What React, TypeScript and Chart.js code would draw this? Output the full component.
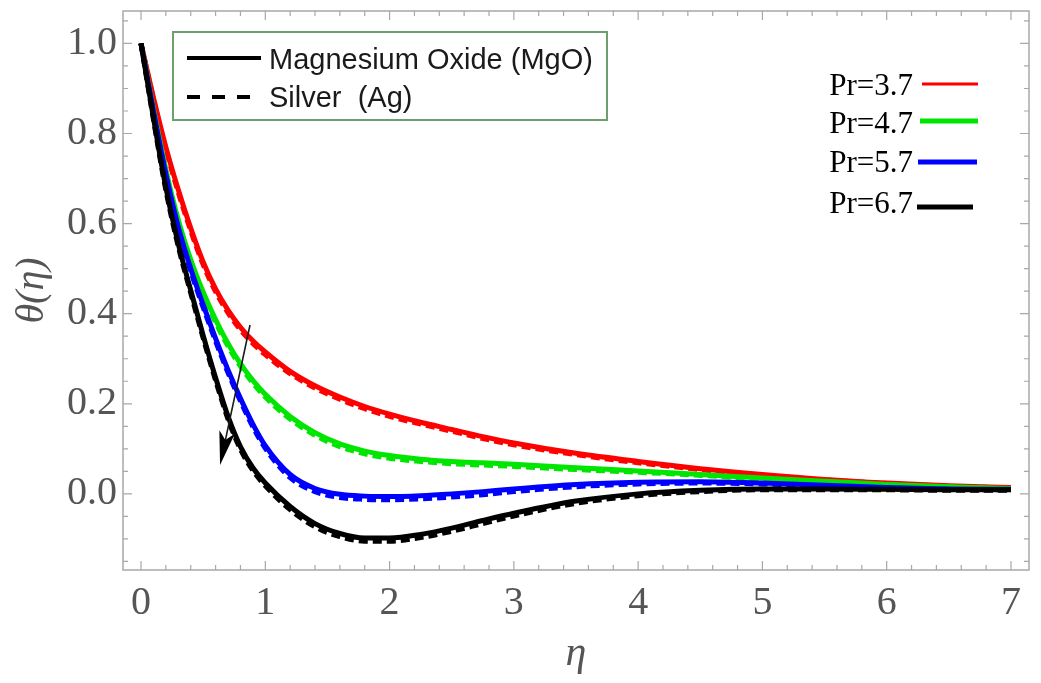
import React, { useEffect, useRef } from 'react';
import { Chart, registerables } from 'chart.js';

Chart.register(...registerables);

// ---------- data ----------
const etaValues = [0, 0.1, 0.2, 0.3, 0.4, 0.5, 0.6, 0.7, 0.8, 0.9, 1.0, 1.2, 1.4, 1.6, 1.8, 2.0, 2.25, 2.5, 2.75, 3.0, 3.5, 4.0, 4.5, 5.0, 5.5, 6.0, 6.5, 7.0];

const pr37MgO = [1.0, 0.88, 0.77, 0.675, 0.59, 0.515, 0.455, 0.408, 0.37, 0.34, 0.315, 0.272, 0.24, 0.215, 0.194, 0.177, 0.159, 0.143, 0.127, 0.113, 0.09, 0.072, 0.056, 0.043, 0.032, 0.024, 0.018, 0.014];
const pr37Ag = [1.0, 0.876, 0.765, 0.669, 0.584, 0.509, 0.449, 0.402, 0.364, 0.334, 0.309, 0.267, 0.235, 0.21, 0.189, 0.172, 0.155, 0.139, 0.123, 0.109, 0.087, 0.069, 0.054, 0.041, 0.031, 0.023, 0.017, 0.013];

const pr47MgO = [1.0, 0.855, 0.72, 0.608, 0.52, 0.448, 0.387, 0.334, 0.289, 0.252, 0.221, 0.172, 0.136, 0.111, 0.095, 0.085, 0.077, 0.072, 0.069, 0.066, 0.058, 0.051, 0.043, 0.035, 0.028, 0.021, 0.016, 0.012];
const pr47Ag = [1.0, 0.851, 0.715, 0.602, 0.514, 0.442, 0.381, 0.328, 0.283, 0.246, 0.215, 0.166, 0.13, 0.105, 0.089, 0.079, 0.072, 0.067, 0.064, 0.061, 0.054, 0.048, 0.041, 0.033, 0.027, 0.02, 0.015, 0.011];

const pr57MgO = [1.0, 0.85, 0.71, 0.592, 0.5, 0.42, 0.345, 0.275, 0.212, 0.155, 0.107, 0.043, 0.012, -0.001, -0.005, -0.006, -0.004, 0.0, 0.005, 0.011, 0.021, 0.026, 0.027, 0.024, 0.019, 0.014, 0.011, 0.01];
const pr57Ag = [1.0, 0.846, 0.705, 0.586, 0.494, 0.414, 0.339, 0.269, 0.206, 0.149, 0.101, 0.036, 0.005, -0.008, -0.012, -0.013, -0.011, -0.007, -0.002, 0.005, 0.016, 0.022, 0.024, 0.022, 0.017, 0.013, 0.01, 0.009];

const pr67MgO = [1.0, 0.835, 0.68, 0.555, 0.452, 0.352, 0.258, 0.172, 0.105, 0.058, 0.024, -0.028, -0.066, -0.088, -0.098, -0.098, -0.09, -0.076, -0.059, -0.043, -0.016, 0.0, 0.008, 0.011, 0.011, 0.01, 0.009, 0.009];
const pr67Ag = [1.0, 0.831, 0.674, 0.549, 0.446, 0.346, 0.252, 0.166, 0.099, 0.052, 0.018, -0.035, -0.073, -0.095, -0.105, -0.105, -0.097, -0.083, -0.066, -0.049, -0.021, -0.004, 0.005, 0.009, 0.009, 0.009, 0.008, 0.008];

const prLabels = ['Pr=3.7', 'Pr=4.7', 'Pr=5.7', 'Pr=6.7'];
const prColors = ['#ff0000', '#00e600', '#0000ff', '#000000'];
const fluidLabels = ['Magnesium Oxide (MgO)', 'Silver  (Ag)'];

const xTitle = 'η';
const yTitle = 'θ(η)';

// arrow annotation (data coordinates): from start to tip
const arrowStart = { x: 0.877, y: 0.375 };
const arrowTip = { x: 0.636, y: 0.064 };

const X_MIN = -0.145;
const X_MAX = 7.145;
const Y_MIN = -0.169;
const Y_MAX = 1.072;

const SERIF = "'Liberation Serif', 'DejaVu Serif', serif";
const SANS = "'Liberation Sans', Arial, sans-serif";

function makeSet(label: string, values: number[], color: string, dashed: boolean) {
  return {
    label,
    data: etaValues.map((e, i) => ({ x: e, y: values[i] })),
    borderColor: color,
    backgroundColor: color,
    borderWidth: 5,
    borderDash: dashed ? [9, 5] : [],
    pointRadius: 0,
    pointHoverRadius: 0,
    fill: false,
    cubicInterpolationMode: 'monotone' as const,
  };
}

const framePlugin = {
  id: 'frameTicks',
  afterDatasetsDraw(chart: any) {
    const { ctx, chartArea: a, scales } = chart;
    const x = scales.x;
    const y = scales.y;
    ctx.save();
    ctx.strokeStyle = '#a8a8a8';
    ctx.lineWidth = 1.5;
    ctx.strokeRect(a.left, a.top, a.right - a.left, a.bottom - a.top);
    ctx.lineWidth = 1.2;
    ctx.beginPath();
    for (let i = 0; i <= 35; i++) {
      const px = x.getPixelForValue(i * 0.2);
      const len = i % 5 === 0 ? 9 : 5;
      ctx.moveTo(px, a.bottom);
      ctx.lineTo(px, a.bottom - len);
      ctx.moveTo(px, a.top);
      ctx.lineTo(px, a.top + len);
    }
    for (let i = -3; i <= 21; i++) {
      const py = y.getPixelForValue(i * 0.05);
      const len = i % 4 === 0 ? 9 : 5;
      ctx.moveTo(a.left, py);
      ctx.lineTo(a.left + len, py);
      ctx.moveTo(a.right, py);
      ctx.lineTo(a.right - len, py);
    }
    ctx.stroke();

    // arrow
    const sx = x.getPixelForValue(arrowStart.x);
    const sy = y.getPixelForValue(arrowStart.y);
    const tx = x.getPixelForValue(arrowTip.x);
    const ty = y.getPixelForValue(arrowTip.y);
    const ang = Math.atan2(ty - sy, tx - sx);
    const headLen = 34;
    const headHalf = 8;
    const bx = tx - headLen * Math.cos(ang);
    const by = ty - headLen * Math.sin(ang);
    const nx = tx - headLen * 0.75 * Math.cos(ang);
    const ny = ty - headLen * 0.75 * Math.sin(ang);
    ctx.strokeStyle = '#1a1a1a';
    ctx.lineWidth = 1.6;
    ctx.beginPath();
    ctx.moveTo(sx, sy);
    ctx.lineTo(nx, ny);
    ctx.stroke();
    ctx.fillStyle = '#000000';
    ctx.beginPath();
    ctx.moveTo(tx, ty);
    ctx.lineTo(bx - headHalf * Math.sin(ang), by + headHalf * Math.cos(ang));
    ctx.lineTo(nx, ny);
    ctx.lineTo(bx + headHalf * Math.sin(ang), by - headHalf * Math.cos(ang));
    ctx.closePath();
    ctx.fill();
    ctx.restore();
  },
  afterDraw(chart: any) {
    const { ctx } = chart;
    ctx.save();
    // fluid legend box
    ctx.fillStyle = '#ffffff';
    ctx.fillRect(173, 32, 434, 88);
    ctx.strokeStyle = '#6d9f6d';
    ctx.lineWidth = 2;
    ctx.strokeRect(173, 32, 434, 88);
    ctx.strokeStyle = '#000000';
    ctx.lineWidth = 4;
    ctx.beginPath();
    ctx.moveTo(187, 58);
    ctx.lineTo(261, 58);
    ctx.stroke();
    ctx.setLineDash([13, 12]);
    ctx.beginPath();
    ctx.moveTo(187, 97);
    ctx.lineTo(262, 97);
    ctx.stroke();
    ctx.setLineDash([]);
    ctx.fillStyle = '#1a1a1a';
    ctx.font = `29px ${SANS}`;
    ctx.textAlign = 'left';
    ctx.textBaseline = 'middle';
    ctx.fillText(fluidLabels[0], 269, 61);
    ctx.fillText(fluidLabels[1], 269, 99);

    // Pr legend
    const textY = [87, 125, 164, 205];
    const lineY = [84, 121, 162, 207];
    const lineX0 = [922, 920, 918, 917];
    const lineX1 = [978, 978, 977, 973];
    const widths = [3, 5, 5, 5];
    ctx.font = `31px ${SERIF}`;
    ctx.textAlign = 'right';
    for (let i = 0; i < prLabels.length; i++) {
      ctx.fillStyle = '#000000';
      ctx.fillText(prLabels[i], 913, textY[i]);
      ctx.strokeStyle = prColors[i];
      ctx.lineWidth = widths[i];
      ctx.beginPath();
      ctx.moveTo(lineX0[i], lineY[i]);
      ctx.lineTo(lineX1[i], lineY[i]);
      ctx.stroke();
    }
    ctx.restore();
  },
};

export default function App() {
  const canvasRef = useRef<HTMLCanvasElement | null>(null);

  useEffect(() => {
    const canvas = canvasRef.current;
    if (!canvas) return;
    const datasets = [
      makeSet('Pr=6.7 MgO', pr67MgO, prColors[3], false),
      makeSet('Pr=6.7 Ag', pr67Ag, prColors[3], true),
      makeSet('Pr=5.7 MgO', pr57MgO, prColors[2], false),
      makeSet('Pr=5.7 Ag', pr57Ag, prColors[2], true),
      makeSet('Pr=4.7 MgO', pr47MgO, prColors[1], false),
      makeSet('Pr=4.7 Ag', pr47Ag, prColors[1], true),
      makeSet('Pr=3.7 MgO', pr37MgO, prColors[0], false),
      makeSet('Pr=3.7 Ag', pr37Ag, prColors[0], true),
    ];
    const chart = new Chart(canvas, {
      type: 'line',
      data: { datasets },
      options: {
        responsive: false,
        animation: false,
        devicePixelRatio: 1,
        layout: { padding: { left: 0, top: 11, right: 12, bottom: 0 } },
        plugins: {
          legend: { display: false },
          tooltip: { enabled: false },
        },
        scales: {
          x: {
            type: 'linear',
            min: X_MIN,
            max: X_MAX,
            grid: { display: false, drawTicks: false },
            border: { display: false },
            ticks: {
              stepSize: 1,
              includeBounds: false,
              padding: 9,
              color: '#555555',
              font: { family: SERIF, size: 40 },
              maxRotation: 0,
              autoSkip: false,
              callback: (v: any) => String(Math.round(Number(v))),
            },
            title: {
              display: true,
              text: xTitle,
              color: '#555555',
              font: { family: SERIF, size: 42, style: 'italic' },
              padding: { top: 0, bottom: 4 },
            },
            afterFit: (scale: any) => {
              scale.height = 113;
              scale.paddingLeft = 0;
              scale.paddingRight = 0;
            },
          },
          y: {
            type: 'linear',
            min: Y_MIN,
            max: Y_MAX,
            grid: { display: false, drawTicks: false },
            border: { display: false },
            ticks: {
              stepSize: 0.2,
              includeBounds: false,
              padding: 6,
              color: '#555555',
              font: { family: SERIF, size: 40 },
              callback: (v: any) => Math.abs(Number(v)).toFixed(1),
            },
            title: {
              display: true,
              text: yTitle,
              color: '#555555',
              font: { family: SERIF, size: 40, style: 'italic' },
              padding: { top: 8, bottom: 0 },
            },
            afterFit: (scale: any) => {
              scale.width = 123;
              scale.paddingTop = 0;
              scale.paddingBottom = 0;
            },
          },
        },
      } as any,
      plugins: [framePlugin],
    });
    return () => chart.destroy();
  }, []);

  return (
    <div style={{ position: 'fixed', left: 0, top: 0, width: 1041, height: 683, background: '#ffffff' }}>
      <canvas ref={canvasRef} width={1041} height={683} style={{ display: 'block' }} />
    </div>
  );
}
